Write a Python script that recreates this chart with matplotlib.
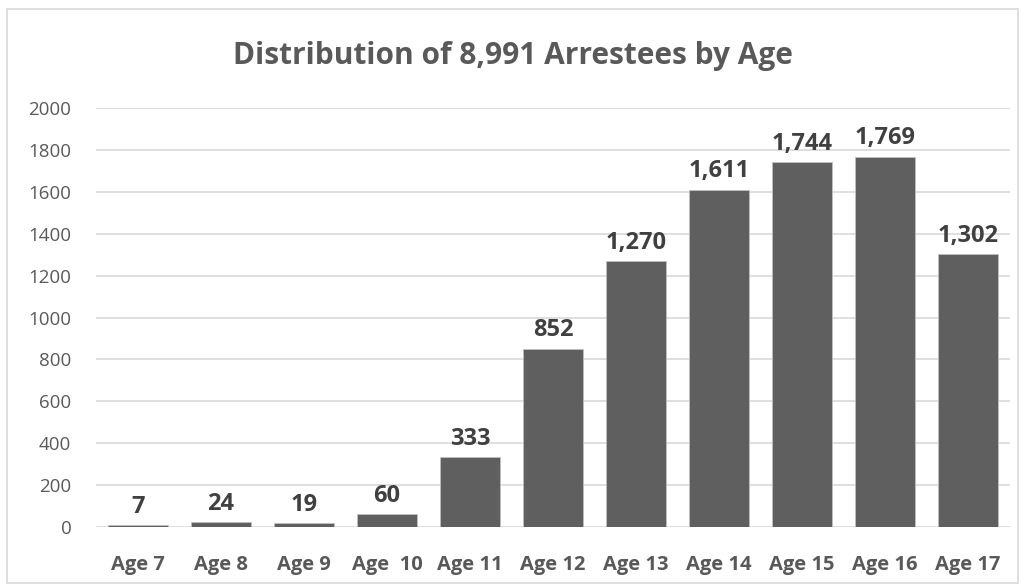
import matplotlib.pyplot as plt
from matplotlib.patches import Rectangle

plt.rcParams['font.family'] = ['Open Sans', 'DejaVu Sans']

ages = ["Age 7", "Age 8", "Age 9", "Age  10", "Age 11", "Age 12",
        "Age 13", "Age 14", "Age 15", "Age 16", "Age 17"]
counts = [7, 24, 19, 60, 333, 852, 1270, 1611, 1744, 1769, 1302]
yticks = [0, 200, 400, 600, 800, 1000, 1200, 1400, 1600, 1800, 2000]

text_col = "#595959"

fig = plt.figure(figsize=(10.25, 5.88), dpi=100)
ax = fig.add_axes([0.094, 0.104, 0.891, 0.712])

x = range(len(ages))
bars = ax.bar(x, counts, width=0.72, color="#5f5f5f", edgecolor="#bfbfbf",
              linewidth=0.6, zorder=3)

for xi, v in zip(x, counts):
    ax.text(xi, v + 30, f"{v:,}", ha="center", va="bottom", fontsize=17,
            fontweight="bold", color="#404040")

ax.set_xlim(-0.5, len(ages) - 0.5)
ax.set_ylim(0, 2000)
ax.set_yticks(yticks)
ax.set_yticklabels([str(t) for t in yticks], fontsize=13.5, color=text_col)
ax.set_xticks(list(x))
ax.set_xticklabels(ages, fontsize=14.5, fontweight="bold", color=text_col)
ax.tick_params(axis="both", length=0)
ax.tick_params(axis="x", pad=20)
ax.tick_params(axis="y", pad=18)
ax.grid(axis="y", color="#d9d9d9", linewidth=1.2, zorder=0)
for s in ax.spines.values():
    s.set_visible(False)

fig.text(0.5, 0.905, "Distribution of 8,991 Arrestees by Age", ha="center",
         va="center", fontsize=21.5, fontweight="bold", color=text_col)

fig.patches.append(Rectangle((0.007, 0.008), 0.986, 0.977, transform=fig.transFigure,
                             fill=False, edgecolor="#d9d9d9", linewidth=1.2))

fig.savefig("out.png", dpi=100)
